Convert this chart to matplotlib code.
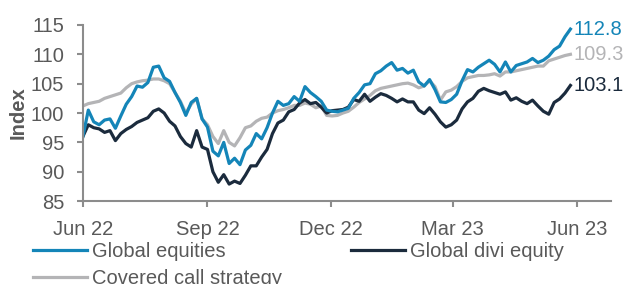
import numpy as np
import pandas as pd
import matplotlib
matplotlib.use("Agg")
import matplotlib.pyplot as plt
import matplotlib.dates as mdates

# ======================
# DATA (one point every 4 days)
# ======================

dates = pd.date_range("2022-06-01", periods=91, freq="4D")

global_equities = [
    96.0, 100.5, 98.5, 98.0, 98.8, 99.0, 97.4, 99.5, 101.5, 102.8,
    104.6, 104.4, 105.2, 107.8, 108.0, 106.0, 105.4, 103.5, 101.8, 99.6,
    101.8, 102.5, 99.0, 97.6, 93.5, 92.7, 95.0, 91.4, 92.3, 91.2,
    93.7, 94.5, 96.5, 95.6, 97.5, 100.0, 102.0, 101.3, 101.6, 102.8,
    102.0, 104.5, 103.5, 102.8, 102.0, 100.5, 100.3, 100.2, 100.5, 100.8,
    102.5, 103.5, 104.8, 105.0, 106.7, 107.2, 108.0, 108.6, 107.3, 107.6,
    106.8, 107.3, 105.3, 104.6, 105.7, 104.0, 101.9, 101.8, 102.3, 103.2,
    105.5, 107.4, 107.0, 107.8, 108.4, 109.0, 108.3, 107.0, 108.7, 107.0,
    108.1, 108.4, 108.7, 109.3, 108.6, 109.0, 109.7, 110.8, 111.4, 113.0,
    114.3,
]

global_divi = [
    96.0, 98.0, 97.5, 97.3, 96.7, 97.0, 95.3, 96.5, 97.2, 97.7,
    98.4, 98.8, 99.2, 100.3, 100.7, 100.0, 98.6, 97.8, 96.0, 94.8,
    94.2, 97.0, 94.2, 93.8, 90.0, 88.2, 89.5, 87.9, 88.4, 88.0,
    89.4, 91.0, 91.0, 92.5, 93.8, 96.5, 98.3, 98.8, 100.2, 100.6,
    101.7, 102.3, 101.6, 101.8, 101.0, 100.0, 100.4, 100.5, 100.6, 101.0,
    102.3, 102.0, 103.2, 102.0, 102.7, 103.3, 103.0, 102.5, 101.9, 102.4,
    101.9, 101.9, 100.5, 99.9, 100.9, 99.8, 98.5, 97.6, 98.0, 98.8,
    100.7, 101.9, 102.5, 103.7, 104.2, 103.8, 103.5, 103.2, 103.6, 102.2,
    102.6, 102.0, 101.6, 102.2, 101.2, 100.3, 99.8, 101.8, 102.4, 103.4,
    104.7,
]

covered_call = [
    101.2, 101.6, 101.8, 102.0, 102.5, 102.8, 103.1, 103.4, 104.3, 105.0,
    105.3, 105.5, 105.6, 105.8, 105.8, 105.5, 105.0, 103.5, 102.0, 100.0,
    101.5, 102.5, 99.0, 98.0, 96.0, 94.8, 97.0, 95.0, 94.4, 95.8,
    97.5, 97.8, 98.6, 99.1, 99.3, 100.0, 100.4, 100.6, 100.9, 101.3,
    101.3, 101.7, 101.5, 100.9, 101.2, 99.6, 99.5, 99.6, 100.0, 100.3,
    101.0, 101.8, 102.4, 103.0, 103.8, 104.2, 104.4, 104.6, 104.8, 105.0,
    105.1, 104.8, 104.3, 104.6, 105.5, 104.5, 102.2, 103.6, 103.9, 104.5,
    105.4, 106.0, 106.2, 106.4, 106.4, 106.5, 106.7, 106.3, 107.0, 107.0,
    107.2, 107.4, 107.6, 107.8, 108.0, 108.0, 108.9, 109.2, 109.5, 109.8,
    110.0,
]

series_names = ["Global equities", "Global divi equity", "Covered call strategy"]
end_labels = ["112.8", "103.1", "109.3"]

# ======================
# STYLE
# ======================

c_blue = "#1485b8"
c_navy = "#1b2b3d"
c_grey = "#b4b4b6"
c_text = "#595959"
c_axis = "#8c8c8c"
fs = 14.5

plt.rcParams["font.family"] = ["Liberation Sans", "DejaVu Sans"]

fig = plt.figure(figsize=(6.28, 2.84), dpi=100)
ax = fig.add_axes([0.132, 0.292, 0.841, 0.62])

ln_blue, = ax.plot(dates, global_equities, color=c_blue, lw=2.3, zorder=2.5)
ln_navy, = ax.plot(dates, global_divi, color=c_navy, lw=2.3, zorder=2.2)
ln_grey, = ax.plot(dates, covered_call, color=c_grey, lw=2.3, zorder=1.5)

# end value labels
for vals, col, txt in [(global_equities, c_blue, end_labels[0]),
                       (global_divi, c_navy, end_labels[1]),
                       (covered_call, c_grey, end_labels[2])]:
    ax.annotate(txt, (dates[-1], vals[-1]), xytext=(2, 0), textcoords="offset points",
                color=col, fontsize=fs, va="center", ha="left", annotation_clip=False)

ax.set_ylim(85, 115)
ax.set_yticks(np.arange(85, 116, 5))
ax.set_xlim(pd.Timestamp("2022-06-01"), pd.Timestamp("2023-06-26"))
ax.set_xticks(pd.to_datetime(["2022-06-01", "2022-09-01", "2022-12-01",
                              "2023-03-01", "2023-06-01"]))
ax.xaxis.set_major_formatter(mdates.DateFormatter("%b %y"))

for s in ["top", "right"]:
    ax.spines[s].set_visible(False)
for s in ["left", "bottom"]:
    ax.spines[s].set_color(c_axis)
    ax.spines[s].set_linewidth(1.5)

ax.tick_params(axis="both", colors=c_axis, width=1.5, length=4.5, labelsize=fs,
               labelcolor=c_text)
ax.tick_params(axis="y", pad=9)
ax.tick_params(axis="x", pad=9)
ax.set_ylabel("Index", color=c_text, fontsize=fs, fontweight="bold", labelpad=2)

# legend filled column-wise: blue + grey in col 1, navy in col 2
fig.legend(handles=[ln_blue, ln_grey, ln_navy],
           labels=[series_names[0], series_names[2], series_names[1]],
           loc="upper left", bbox_to_anchor=(0.052, 0.148), ncol=2, frameon=False,
           fontsize=fs, handlelength=2.7, handletextpad=0.25,
           columnspacing=3.4, labelspacing=0.4, borderaxespad=0,
           borderpad=0, labelcolor=c_text)

fig.savefig("out.png", dpi=100)
